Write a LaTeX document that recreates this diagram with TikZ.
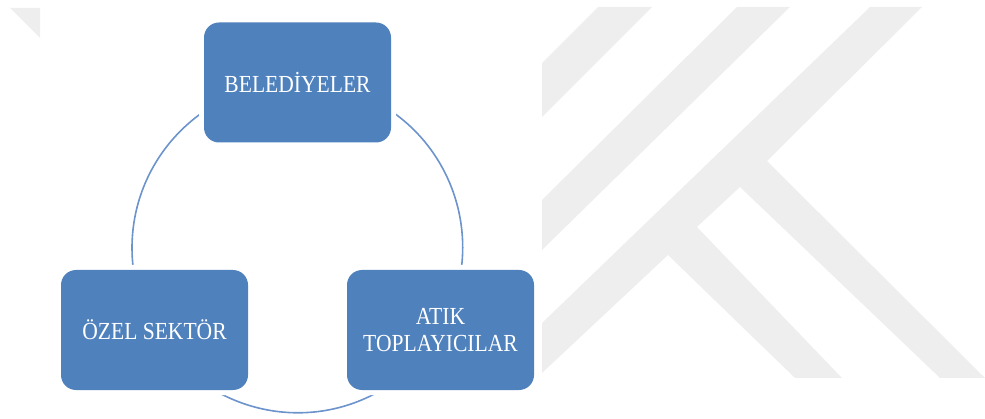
\documentclass[tikz,border=0pt]{standalone}
\usepackage{fontspec}
\setmainfont{Liberation Serif}
\newfontfamily\stagefont[FakeStretch=0.88]{Liberation Serif}
\usetikzlibrary{backgrounds}
\definecolor{boxblue}{RGB}{79,129,189}
\definecolor{ringblue}{RGB}{108,147,204}
\definecolor{markgray}{RGB}{238,238,238}
\begin{document}
\begin{tikzpicture}[x=1pt,y=-1pt,
  stage/.style={rectangle, rounded corners=15pt, fill=boxblue, text=white,
    minimum width=187pt, minimum height=120pt, align=center, inner sep=0pt,
    font=\stagefont\fontsize{24.5}{27}\selectfont,
    preaction={draw=white, line width=10pt}},
  ring/.style={draw=ringblue, line width=1.6pt},
  markshape/.style={fill=markgray, draw=none}]
\useasboundingbox (0,0) rectangle (985,419);

% the three stages of the cycle
\node[stage] (bel) at (297.5,82.5) {BELED\.{I}YELER};
\node[stage] (ozel) at (154.5,330) {ÖZEL SEKTÖR};
\node[stage] (atik) at (440.5,330) {ATIK\\TOPLAYICILAR};

\begin{scope}[on background layer]
  % faint letter mark in the background
  \fill[markshape] (10,8) -- (40,8) -- (40,38) -- cycle;
  \fill[markshape] (598,7) -- (652,7) -- (542,117) -- (542,63) -- cycle;
  \fill[markshape] (737,7) -- (790,7) -- (542,250) -- (542,200) -- cycle;
  \fill[markshape] (870,7) -- (922,7) -- (767,161) -- (985,378) -- (940,378)
    -- (740,187) -- (697,227) -- (842,378) -- (795,378) -- (668,255)
    -- (542,373) -- (542,323) -- cycle;
  % ring joining the stages
  \draw[ring] (bel.center) arc[start angle=-90, end angle=-210, radius=165.5];
  \draw[ring] (ozel.center) arc[start angle=150, end angle=30, radius=165.5];
  \draw[ring] (atik.center) arc[start angle=30, end angle=-90, radius=165.5];
\end{scope}
\end{tikzpicture}
\end{document}
